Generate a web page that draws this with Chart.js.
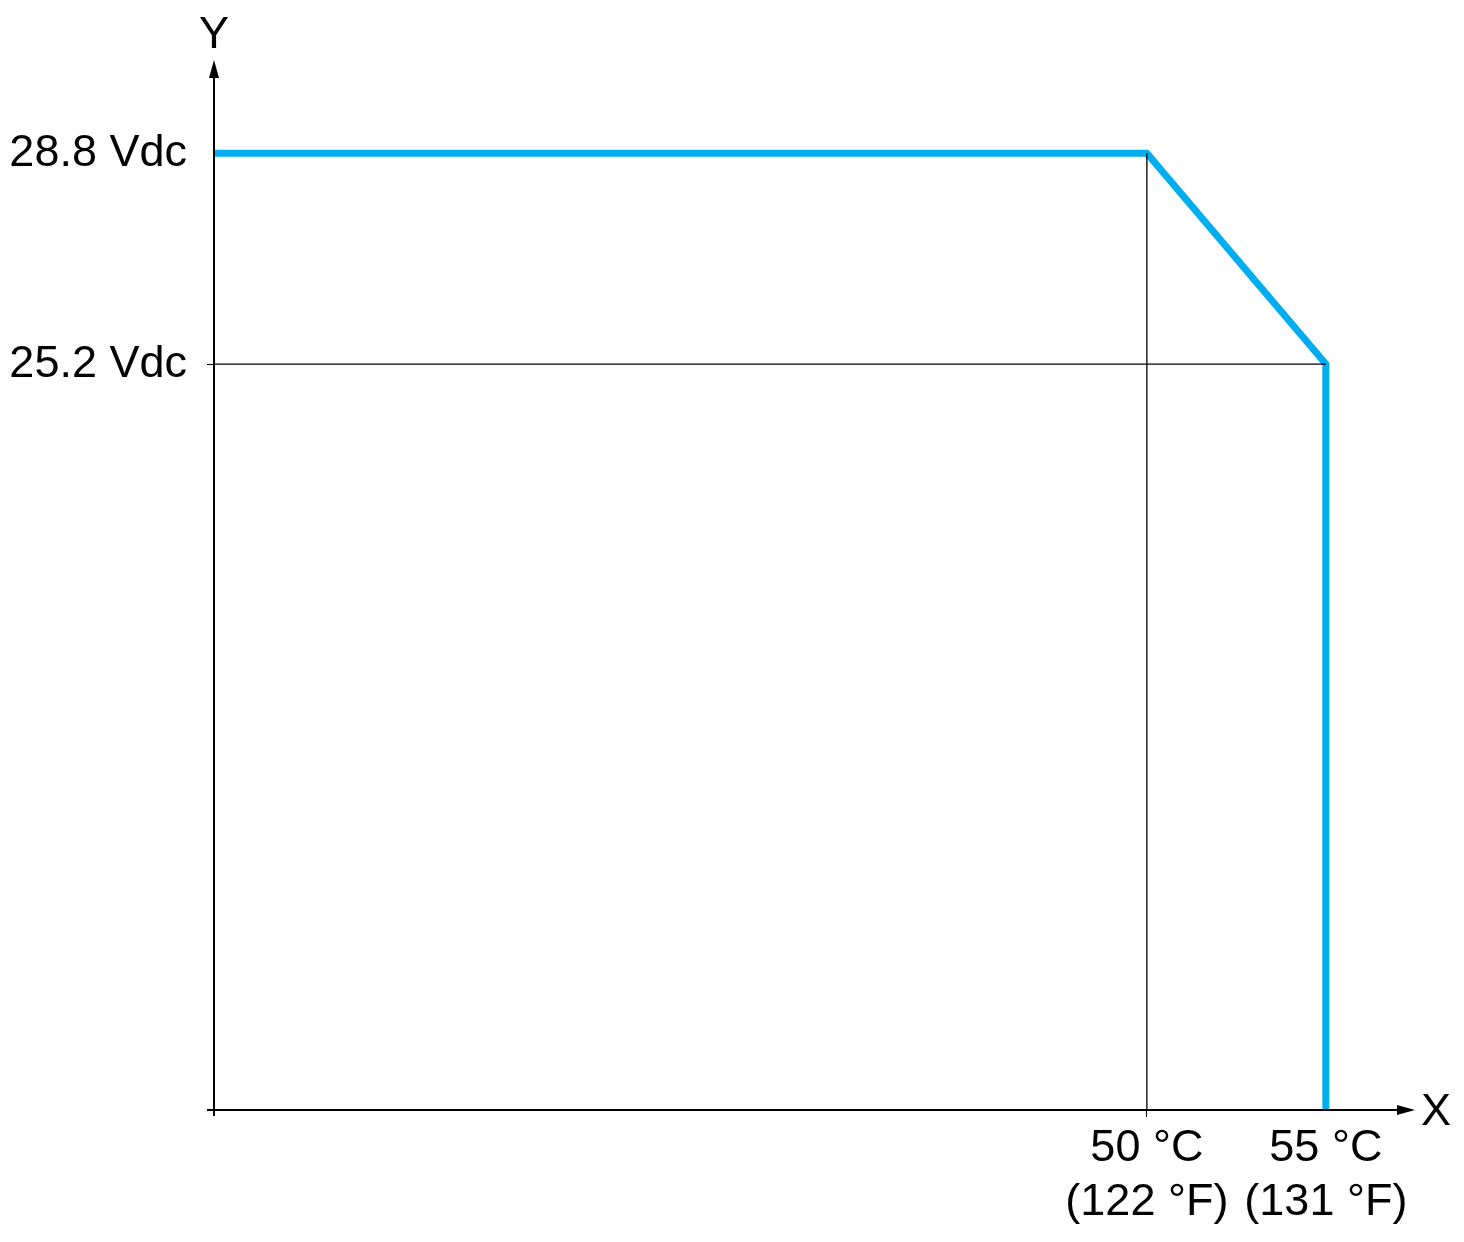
<!DOCTYPE html>
<html>
<head>
<meta charset="utf-8">
<title>Derating curve</title>
<script src="https://cdn.jsdelivr.net/npm/chart.js@4.4.1/dist/chart.umd.min.js"></script>
<style>
  html, body { margin: 0; padding: 0; background: #fff; }
  #wrap { width: 1464px; height: 1242px; }
</style>
</head>
<body>
<div id="wrap"><canvas id="derateChart" width="1464" height="1242"></canvas></div>
<script>
// axis ranges (schematic, origin is not zero)
const xStart = 23.94;
const xEnd = 57.49;
const yFloor = 12.47;
const yTop = 30.39;

// derating curve: temperature (°C) vs supply voltage (Vdc)
const curveTemp = [xStart, 50, 55, 55];
const curveVolt = [28.8, 28.8, 25.2, yFloor];

// thin reference lines
const guideVertTemp = [50, 50];
const guideVertVolt = [28.8, yFloor];
const guideHorTemp = [xStart, 55];
const guideHorVolt = [25.2, 25.2];

// tick labels
const xTickValues = [50, 55];
const xTickLabels = [['50 °C', '(122 °F)'], ['55 °C', '(131 °F)']];
const yTickValues = [25.2, 28.8];
const yTickLabels = ['25.2 Vdc', '28.8 Vdc'];

const FONT = "'Liberation Sans', Arial, Helvetica, sans-serif";
const BLUE = '#00aeef';

const toPoints = (xs, ys) => xs.map((x, i) => ({ x, y: ys[i] }));

// draws the two axes with arrow heads and the X / Y names
const arrowAxes = {
  id: 'arrowAxes',
  afterDatasetsDraw(chart) {
    const { ctx, chartArea: a } = chart;
    ctx.save();
    ctx.strokeStyle = '#000';
    ctx.fillStyle = '#000';
    ctx.lineWidth = 2;

    ctx.beginPath();
    ctx.moveTo(a.left, a.bottom + 6);
    ctx.lineTo(a.left, a.top + 14);
    ctx.moveTo(a.left - 7, a.bottom);
    ctx.lineTo(a.right - 14, a.bottom);
    ctx.stroke();

    // y arrow
    ctx.beginPath();
    ctx.moveTo(a.left, a.top);
    ctx.lineTo(a.left - 5, a.top + 18);
    ctx.lineTo(a.left + 5, a.top + 18);
    ctx.closePath();
    ctx.fill();

    // x arrow
    ctx.beginPath();
    ctx.moveTo(a.right, a.bottom);
    ctx.lineTo(a.right - 18, a.bottom - 5);
    ctx.lineTo(a.right - 18, a.bottom + 5);
    ctx.closePath();
    ctx.fill();

    ctx.font = '45px ' + FONT;
    ctx.textAlign = 'center';
    ctx.textBaseline = 'middle';
    ctx.fillText('Y', a.left, a.top - 24);
    ctx.fillText('X', a.right + 21, a.bottom + 3);
    ctx.restore();
  }
};

const ctx = document.getElementById('derateChart').getContext('2d');

new Chart(ctx, {
  type: 'scatter',
  data: {
    datasets: [
      {
        data: toPoints(guideVertTemp, guideVertVolt),
        showLine: true,
        borderColor: '#000',
        borderWidth: 1.3,
        pointRadius: 0
      },
      {
        data: toPoints(guideHorTemp, guideHorVolt),
        showLine: true,
        borderColor: '#000',
        borderWidth: 1.3,
        pointRadius: 0
      },
      {
        data: toPoints(curveTemp, curveVolt),
        showLine: true,
        borderColor: BLUE,
        borderWidth: 7,
        borderJoinStyle: 'miter',
        pointRadius: 0
      }
    ]
  },
  options: {
    responsive: false,
    animation: false,
    events: [],
    layout: { padding: { top: 60, right: 49, left: 0, bottom: 0 } },
    plugins: {
      legend: { display: false },
      tooltip: { enabled: false }
    },
    scales: {
      x: {
        type: 'linear',
        min: xStart,
        max: xEnd,
        afterBuildTicks: (scale) => {
          scale.ticks = xTickValues.map(v => ({ value: v }));
        },
        afterFit: (scale) => { scale.height = 132; },
        border: { display: false },
        grid: {
          drawOnChartArea: false,
          tickLength: 7,
          lineWidth: 1,
          color: (c) => (c.tick && c.tick.value === 50 ? '#000' : 'rgba(0,0,0,0)')
        },
        ticks: {
          color: '#000',
          padding: 5,
          maxRotation: 0,
          autoSkip: false,
          font: { family: FONT, size: 45, lineHeight: 1.2 },
          callback: (value) => {
            const i = xTickValues.indexOf(value);
            return i >= 0 ? xTickLabels[i] : '';
          }
        }
      },
      y: {
        type: 'linear',
        min: yFloor,
        max: yTop,
        afterBuildTicks: (scale) => {
          scale.ticks = yTickValues.map(v => ({ value: v }));
        },
        afterFit: (scale) => { scale.width = 214; },
        border: { display: false },
        grid: {
          drawOnChartArea: false,
          tickLength: 7,
          lineWidth: 1,
          color: (c) => (c.tick && c.tick.value === 25.2 ? '#000' : 'rgba(0,0,0,0)')
        },
        ticks: {
          color: '#000',
          padding: 20,
          autoSkip: false,
          font: { family: FONT, size: 45 },
          callback: (value) => {
            const i = yTickValues.indexOf(value);
            return i >= 0 ? yTickLabels[i] : '';
          }
        }
      }
    }
  },
  plugins: [arrowAxes]
});
</script>
</body>
</html>
